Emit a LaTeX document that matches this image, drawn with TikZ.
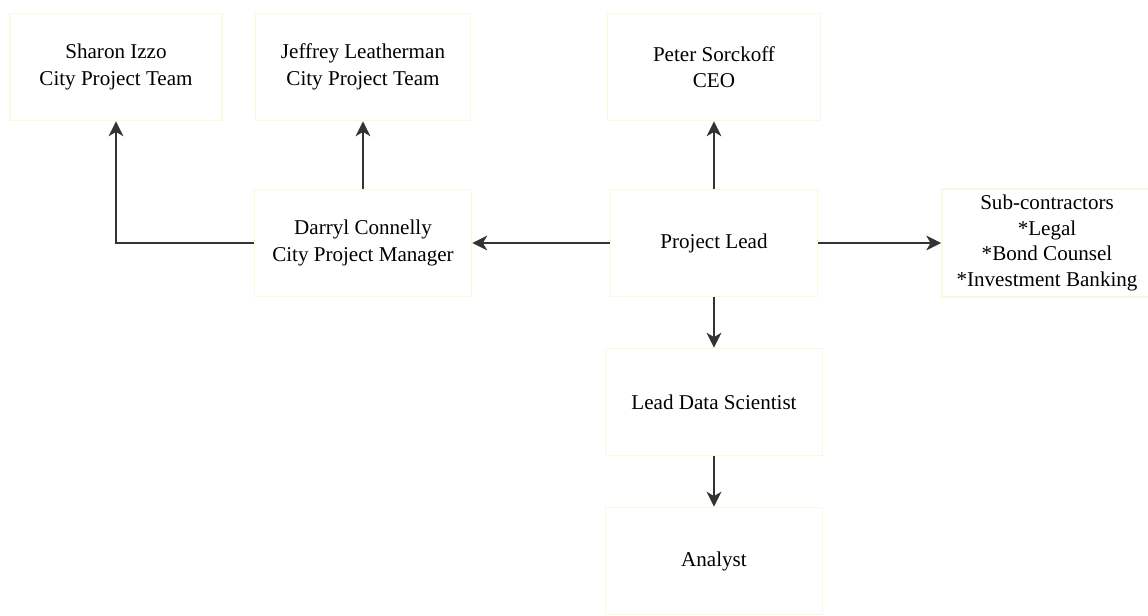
\documentclass[tikz,border=0pt]{standalone}
\usepackage{fontspec}
\setmainfont{Liberation Serif}
\usetikzlibrary{arrows.meta}

\definecolor{boxline}{RGB}{252,248,222}

\tikzset{
  orgbox/.style={draw=boxline,line width=1pt,align=center,
    minimum width=4.3cm,minimum height=2.14cm,
    font=\fontsize{12}{15}\selectfont},
  link/.style={draw=black!80,line width=.8pt,
    -{Stealth[length=8.5pt,width=8.5pt,inset=2.5pt]}}
}

\begin{document}
\begin{tikzpicture}[x=.02cm,y=-.02cm]

\useasboundingbox (0,0) rectangle (1148,615);

\node[orgbox,minimum width=4.24cm] (sharon) at (116,67) {Sharon Izzo\\City Project Team};
\node[orgbox,minimum width=4.3cm] (jeffrey) at (363,67) {Jeffrey Leatherman\\City Project Team};
\node[orgbox,minimum width=4.26cm] (ceo) at (714,67) {Peter Sorckoff\\CEO};

\node[orgbox,minimum width=4.34cm] (darryl) at (363,243) {Darryl Connelly\\City Project Manager};
\node[orgbox,minimum width=4.14cm] (lead) at (714,243) {Project Lead};
\node[orgbox,minimum width=4.2cm,font=\fontsize{12}{14.5}\selectfont] (sub) at (1047,243) {Sub-contractors\\*Legal\\*Bond Counsel\\*Investment Banking};

\node[orgbox,minimum width=4.34cm] (scientist) at (714,402) {Lead Data Scientist};
\node[orgbox,minimum width=4.34cm] (analyst) at (714,561) {Analyst};

\draw[link] (lead.north) -- (ceo.south);
\draw[link] (lead.west) -- (darryl.east);
\draw[link] (lead.east) -- (sub.west);
\draw[link] (lead.south) -- (scientist.north);
\draw[link] (scientist.south) -- (analyst.north);

\draw[link] (darryl.north) -- (jeffrey.south);
\draw[link] (darryl.west) -| (sharon.south);

\end{tikzpicture}
\end{document}
